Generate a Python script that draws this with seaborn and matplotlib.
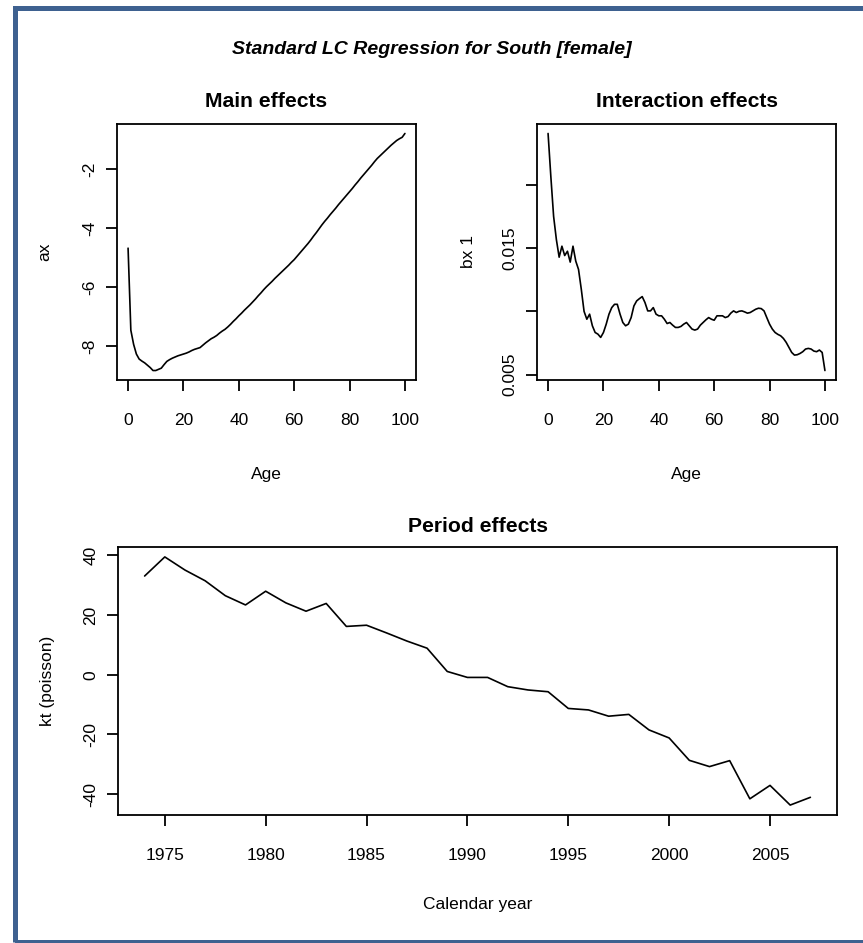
import numpy as np
import pandas as pd
import matplotlib
matplotlib.use("Agg")
import matplotlib.pyplot as plt
import seaborn as sns
from matplotlib.patches import Rectangle

# ---------------- data ----------------
ages = list(range(0, 101))
ax_values = [
    -4.68, -7.47, -7.95, -8.28, -8.45, -8.52, -8.58, -8.66, -8.74, -8.84,
    -8.84, -8.80, -8.76, -8.64, -8.53, -8.47, -8.42, -8.38, -8.34, -8.31,
    -8.28, -8.25, -8.21, -8.16, -8.12, -8.09, -8.06, -7.98, -7.90, -7.83,
    -7.76, -7.71, -7.65, -7.57, -7.50, -7.44, -7.36, -7.27, -7.17, -7.08,
    -6.98, -6.89, -6.79, -6.70, -6.61, -6.51, -6.41, -6.30, -6.20, -6.09,
    -5.99, -5.90, -5.81, -5.71, -5.62, -5.53, -5.44, -5.35, -5.26, -5.16,
    -5.07, -4.96, -4.85, -4.74, -4.63, -4.52, -4.40, -4.27, -4.15, -4.02,
    -3.89, -3.77, -3.66, -3.54, -3.43, -3.32, -3.20, -3.09, -2.98, -2.87,
    -2.76, -2.65, -2.53, -2.42, -2.30, -2.19, -2.08, -1.97, -1.86, -1.74,
    -1.63, -1.54, -1.45, -1.36, -1.27, -1.18, -1.10, -1.02, -0.96, -0.91,
    -0.78,
]
bx_values = [
    0.02408, 0.02067, 0.01752, 0.01568, 0.01429, 0.01516, 0.01442, 0.01476, 0.01390, 0.01516,
    0.01398, 0.01332, 0.01175, 0.01000, 0.00938, 0.00978, 0.00886, 0.00833, 0.00820, 0.00794,
    0.00833, 0.00899, 0.00978, 0.01030, 0.01056, 0.01056, 0.00978, 0.00912, 0.00886, 0.00899,
    0.00951, 0.01043, 0.01083, 0.01101, 0.01117, 0.01070, 0.01004, 0.01004, 0.01030, 0.00978,
    0.00965, 0.00965, 0.00938, 0.00904, 0.00912, 0.00891, 0.00873, 0.00873, 0.00881, 0.00899,
    0.00912, 0.00886, 0.00860, 0.00852, 0.00860, 0.00891, 0.00912, 0.00933, 0.00951, 0.00938,
    0.00930, 0.00965, 0.00965, 0.00965, 0.00951, 0.00959, 0.00986, 0.01004, 0.00991, 0.01001,
    0.01004, 0.00996, 0.00986, 0.00991, 0.01004, 0.01017, 0.01025, 0.01022, 0.01004, 0.00951,
    0.00899, 0.00860, 0.00833, 0.00818, 0.00807, 0.00786, 0.00755, 0.00715, 0.00675, 0.00654,
    0.00657, 0.00667, 0.00681, 0.00702, 0.00707, 0.00702, 0.00686, 0.00681, 0.00694, 0.00675,
    0.00532,
]
years = list(range(1974, 2008))
kt_values = [
    33.1, 39.5, 35.1, 31.5, 26.5, 23.4, 28.0, 24.1, 21.3, 23.9,
    16.2, 16.6, 14.0, 11.3, 8.9, 1.1, -0.9, -0.9, -4.0, -5.1,
    -5.7, -11.3, -11.8, -13.9, -13.3, -18.5, -21.2, -28.7, -30.8, -28.8,
    -41.6, -37.1, -43.7, -41.1,
]

main_title = "Standard LC Regression for South [female]"
panel_titles = ["Main effects", "Interaction effects", "Period effects"]
age_ticks = [0, 20, 40, 60, 80, 100]
ax_ticks = [-8, -6, -4, -2]
bx_ticks = [0.005, 0.010, 0.015, 0.020]
bx_ticklabels = ["0.005", "", "0.015", ""]
year_ticks = [1975, 1980, 1985, 1990, 1995, 2000, 2005]
kt_ticks = [-40, -20, 0, 20, 40]

# ---------------- style ----------------
sns.set_style("ticks")
plt.rcParams["font.family"] = ["Liberation Sans", "DejaVu Sans"]
plt.rcParams["axes.linewidth"] = 1.3
plt.rcParams["text.color"] = "black"
plt.rcParams["axes.labelcolor"] = "black"
plt.rcParams["axes.titlecolor"] = "black"
plt.rcParams["xtick.color"] = "black"
plt.rcParams["ytick.color"] = "black"
plt.rcParams["xtick.labelcolor"] = "black"
plt.rcParams["ytick.labelcolor"] = "black"

W, H = 863, 943
fig = plt.figure(figsize=(W / 100, H / 100), dpi=100)
fig.patch.set_facecolor("white")

def frac(x0, y0, x1, y1):
    return [x0 / W, 1 - y1 / H, (x1 - x0) / W, (y1 - y0) / H]

ax1 = fig.add_axes(frac(117, 124, 416, 380))
ax2 = fig.add_axes(frac(537, 124, 836, 380))
ax3 = fig.add_axes(frac(118, 547, 837, 815))

df_age = pd.DataFrame({"Age": ages, "ax": ax_values, "bx": bx_values})
df_year = pd.DataFrame({"year": years, "kt": kt_values})

sns.lineplot(data=df_age, x="Age", y="ax", ax=ax1, color="black", linewidth=1.2)
sns.lineplot(data=df_age, x="Age", y="bx", ax=ax2, color="black", linewidth=1.2)
sns.lineplot(data=df_year, x="year", y="kt", ax=ax3, color="black", linewidth=1.2)

FS = 12.5
TFS = 15.2

def style_axes(ax):
    ax.margins(x=0.04, y=0.04)
    for s in ax.spines.values():
        s.set_visible(True)
        s.set_color("black")
        s.set_linewidth(1.3)
    ax.tick_params(axis="both", direction="out", length=8, width=1.3,
                   colors="black", labelcolor="black", labelsize=FS)
    ax.tick_params(axis="x", pad=16)
    ax.tick_params(axis="y", pad=6)
    ax.grid(False)
    ax.set_facecolor("white")

for a in (ax1, ax2, ax3):
    style_axes(a)

ax1.set_xticks(age_ticks)
ax1.set_yticks(ax_ticks)
ax1.set_yticklabels([str(t) for t in ax_ticks])
ax2.set_xticks(age_ticks)
ax2.set_yticks(bx_ticks)
ax2.set_yticklabels(bx_ticklabels)
ax3.set_xticks(year_ticks)
ax3.set_yticks(kt_ticks)
ax3.set_yticklabels([str(t) for t in kt_ticks])

for a in (ax1, ax2, ax3):
    for lab in a.get_yticklabels():
        lab.set_rotation(90)
        lab.set_va("center")
        lab.set_ha("right")
        lab.set_color("black")
    for lab in a.get_xticklabels():
        lab.set_color("black")

# axis labels
ax1.set_xlabel("Age", fontsize=FS, color="black")
ax1.set_ylabel("ax", fontsize=FS, color="black")
ax2.set_xlabel("Age", fontsize=FS, color="black")
ax2.set_ylabel("bx 1", fontsize=FS, color="black")
ax3.set_xlabel("Calendar year", fontsize=FS, color="black")
ax3.set_ylabel("kt (poisson)", fontsize=FS, color="black")

ax1.xaxis.set_label_coords(0.5, (380 - 474) / 256)
ax2.xaxis.set_label_coords(0.5, (380 - 474) / 256)
ax3.xaxis.set_label_coords(0.5, (815 - 905) / 268)
ax1.yaxis.set_label_coords((45 - 117) / 299, 0.5)
ax2.yaxis.set_label_coords((468 - 537) / 299, 0.5)
ax3.yaxis.set_label_coords((47 - 118) / 719, 0.5)
for a in (ax1, ax2, ax3):
    a.xaxis.label.set_va("center")
    a.yaxis.label.set_va("center")

ax1.set_title(panel_titles[0], fontsize=TFS, fontweight="bold", pad=12.5, color="black")
ax2.set_title(panel_titles[1], fontsize=TFS, fontweight="bold", pad=12.5, color="black")
ax3.set_title(panel_titles[2], fontsize=TFS, fontweight="bold", pad=10.5, color="black")

fig.text(0.5, 1 - 49 / H, main_title, ha="center", va="center",
         fontsize=14, fontweight="bold", fontstyle="italic", color="black")

# outer frame
border = Rectangle((14.5 / W, 1 - 941.5 / H), (880 - 14.5) / W, (941.5 - 7.5) / H,
                   transform=fig.transFigure, fill=False, edgecolor="#3e6190",
                   linewidth=5 * 72 / 100, clip_on=False)
fig.patches.append(border)

fig.savefig("out.png", dpi=100)
